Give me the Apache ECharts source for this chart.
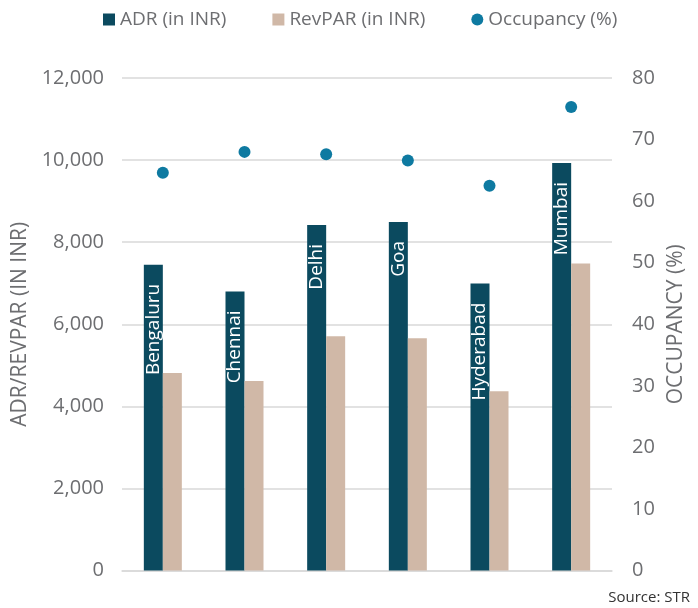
<!DOCTYPE html>
<html><head><meta charset="utf-8">
<script src="https://cdn.jsdelivr.net/npm/echarts@6/dist/echarts.min.js"></script>
<style>html,body{margin:0;padding:0;background:#fff}#c{width:698px;height:608px}</style>
</head><body><div id="c"></div>
<script>
const categories = ['Bengaluru','Chennai','Delhi','Goa','Hyderabad','Mumbai'];
const adr = [7450, 6800, 8420, 8490, 6990, 9930];
const revpar = [4810, 4620, 5710, 5660, 4365, 7480];
const occupancy = [64.6, 68.0, 67.6, 66.6, 62.5, 75.3];
const leftTicks = [0, 2000, 4000, 6000, 8000, 10000, 12000];
const rightTicks = [0, 10, 20, 30, 40, 50, 60, 70, 80];

const FONT = '"Open Sans", sans-serif';
const GRAY = '#6d6e71';
const chart = echarts.init(document.getElementById('c'), null, {renderer:'canvas'});
chart.setOption({
  animation: false,
  textStyle: {fontFamily: FONT},
  legend: {
    top: 5, left: 98, itemGap: 46, itemWidth: 12, itemHeight: 12,
    textStyle: {fontFamily: FONT, fontSize: 19, color: GRAY},
    data: [
      {name: 'ADR (in INR)', icon: 'rect'},
      {name: 'RevPAR (in INR)', icon: 'rect'},
      {name: 'Occupancy (%)', icon: 'circle'}
    ]
  },
  graphic: [{
    type: 'text', right: 8, bottom: 3,
    style: {text: 'Source: STR', font: '15px ' + FONT, fill: '#333'}
  }],
  grid: {left: 122, right: 86, top: 78, bottom: 37.5},
  xAxis: {
    type: 'category', data: categories,
    axisLine: {lineStyle: {color: '#d9d9d9', width: 1.5}},
    axisTick: {show: false}, axisLabel: {show: false}
  },
  yAxis: [{
    type: 'value', min: leftTicks[0], max: leftTicks[leftTicks.length-1], interval: 2000,
    name: 'ADR/REVPAR (IN INR)', nameLocation: 'middle', nameGap: 85, nameRotate: 90,
    nameTextStyle: {fontFamily: FONT, fontSize: 21, color: GRAY},
    axisLabel: {fontFamily: FONT, fontSize: 20, color: GRAY, margin: 18,
      formatter: v => v.toLocaleString('en-US')},
    axisLine: {show: false}, axisTick: {show: false},
    splitLine: {lineStyle: {color: '#d9d9d9', width: 1.5}}
  }, {
    type: 'value', min: rightTicks[0], max: rightTicks[rightTicks.length-1], interval: 10,
    name: 'OCCUPANCY (%)', nameLocation: 'middle', nameGap: 53, nameRotate: 90,
    nameTextStyle: {fontFamily: FONT, fontSize: 21, color: GRAY},
    axisLabel: {fontFamily: FONT, fontSize: 20, color: GRAY, margin: 20},
    axisLine: {show: false}, axisTick: {show: false}, splitLine: {show: false}
  }],
  series: [{
    name: 'ADR (in INR)', type: 'bar', data: adr, barWidth: 19, barGap: '0%',
    itemStyle: {color: '#0b4a5f'},
    label: {
      show: true, position: 'insideTop', rotate: 90, align: 'right', verticalAlign: 'middle',
      distance: 19, color: '#fff', fontFamily: FONT, fontSize: 19,
      formatter: p => categories[p.dataIndex]
    }
  }, {
    name: 'RevPAR (in INR)', type: 'bar', data: revpar, barWidth: 19,
    itemStyle: {color: '#d0b8a7'}
  }, {
    name: 'Occupancy (%)', type: 'scatter', yAxisIndex: 1, data: occupancy,
    symbolSize: 12, itemStyle: {color: '#0e7aa1', opacity: 1}
  }]
});
</script></body></html>
